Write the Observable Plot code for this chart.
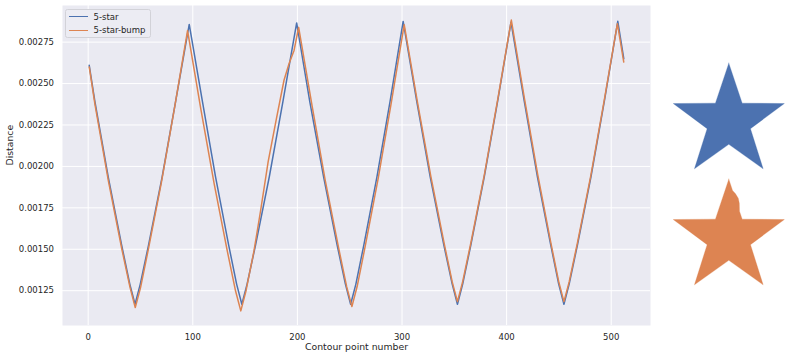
<!DOCTYPE html>
<html>
<head>
<meta charset="utf-8">
<script src="https://cdn.jsdelivr.net/npm/d3@7"></script>
<script src="https://cdn.jsdelivr.net/npm/@observablehq/plot@0.6"></script>
<style>
  html, body { margin: 0; padding: 0; background: #ffffff; }
  #wrap { position: relative; width: 789px; height: 356px; font-family: "DejaVu Sans", sans-serif; }
  #wrap svg { position: absolute; }
  #legend { position: absolute; left: 65px; top: 9px; width: 86px; height: 29px; box-sizing: border-box;
            border: 1px solid #d2d2d8; border-radius: 2.5px; background: #ececf3; color: #262626;
            font: 8.5px "DejaVu Sans", sans-serif; }
  .row { position: absolute; left: 0; height: 12px; }
  .sw { position: absolute; left: 3px; top: 5.5px; width: 19px; height: 0; border-top: 1.5px solid; }
  .lb { position: absolute; left: 27.5px; top: 0px; line-height: 12px; white-space: nowrap; }
</style>
</head>
<body>
<div id="wrap"></div>
<script>
// ---- data ----
const seriesNames = ["5-star", "5-star-bump"];
const seriesColors = ["#4C72B0", "#DD8452"];

const starIdx = [1, 6.4, 19.2, 32, 39.8, 44.8, 49.8, 57.7, 70.7, 83.6, 96.6, 109.2, 121.8, 134.3, 141.9, 146.9,
  151.9, 160, 173.1, 186.2, 199.3, 211.8, 225.1, 238, 245.9, 250.9, 255.9, 263.5, 276, 288.6, 301.1,
  314.1, 327, 340, 348, 353, 358, 365.8, 378.6, 391.4, 404.2, 416.9, 429.5, 442.2, 449.8, 454.8,
  459.8, 467.7, 480.6, 493.4, 506.3, 512];
const starDist = [0.00261, 0.002392, 0.001936, 0.001525, 0.00129, 0.001168, 0.00129, 0.001525, 0.001936, 0.002392, 0.002857,
  0.002392, 0.001936, 0.001525, 0.00129, 0.001168, 0.00129, 0.001525, 0.001936, 0.002392, 0.002866,
  0.002392, 0.001936, 0.001525, 0.00129, 0.001168, 0.00129, 0.001525, 0.001936, 0.002392, 0.002875,
  0.002392, 0.001936, 0.001525, 0.00129, 0.001168, 0.00129, 0.001525, 0.001936, 0.002392, 0.00287,
  0.002392, 0.001936, 0.001525, 0.00129, 0.001168, 0.00129, 0.001525, 0.001936, 0.002392, 0.002876, 0.00265];

const bumpIdx = [1, 6.6, 19.4, 32.2, 40, 45, 50, 57.5, 70, 82.5, 95, 107.7, 120.5, 133.2, 140.9, 145.9,
  150.9, 158.5, 165, 172.1, 180, 187.2, 192, 196.8, 201.2, 214, 226.6, 239.4, 247.1, 252.1,
  257.1, 264.6, 277.1, 289.6, 302.1, 314.8, 327.6, 340.3, 348, 353, 358, 365.9, 378.8, 391.6, 404.5,
  417.1, 429.7, 442.2, 449.8, 454.8, 459.8, 467.6, 480.4, 493.1, 505.9, 512];
const bumpDist = [0.0026, 0.00237, 0.00191, 0.0015, 0.00127, 0.001148, 0.001267, 0.001499, 0.001904, 0.002352, 0.00282,
  0.002346, 0.001893, 0.001483, 0.001248, 0.001128, 0.00125, 0.00149, 0.00174, 0.00203, 0.00229, 0.00252, 0.00262, 0.0027, 0.002839,
  0.002367, 0.001916, 0.001508, 0.001274, 0.001154, 0.001275, 0.001511, 0.001923, 0.002379, 0.002855,
  0.002387, 0.001939, 0.001535, 0.001303, 0.001184, 0.001305, 0.001541, 0.001952, 0.002407, 0.002883,
  0.002407, 0.001952, 0.001541, 0.001305, 0.001184, 0.001303, 0.001536, 0.001942, 0.002391, 0.002861, 0.00263];

const xTicks = [0, 100, 200, 300, 400, 500];
const yTicks = [0.00125, 0.0015, 0.00175, 0.002, 0.00225, 0.0025, 0.00275];
const xLabel = "Contour point number";
const yLabel = "Distance";

// star outlines (unit radius, y up)
const starShapeX = [0, 0.229, 0.951, 0.371, 0.588, 0, -0.588, -0.371, -0.951, -0.229, 0];
const starShapeY = [1, 0.316, 0.309, -0.121, -0.809, -0.39, -0.809, -0.121, 0.309, 0.316, 1];
const bumpShapeX = [0, 0.064, 0.115, 0.162, 0.180, 0.183, 0.229, 0.951, 0.371, 0.588, 0, -0.588, -0.371, -0.951, -0.229, 0];
const bumpShapeY = [1, 0.808, 0.750, 0.674, 0.589, 0.453, 0.316, 0.309, -0.121, -0.809, -0.39, -0.809, -0.121, 0.309, 0.316, 1];

// ---- build ----
const toRows = (xs, ys) => xs.map((x, i) => ({x, y: ys[i]}));
const blueRows = toRows(starIdx, starDist);
const orangeRows = toRows(bumpIdx, bumpDist);

const wrap = document.getElementById("wrap");

const main = Plot.plot({
  width: 660, height: 356,
  marginLeft: 62, marginRight: 10, marginTop: 5, marginBottom: 31,
  style: {fontFamily: "DejaVu Sans", fontSize: "8.5px", color: "#262626", background: "transparent", overflow: "visible"},
  x: {domain: [-24.55, 537.55]},
  y: {domain: [0.00104, 0.002971]},
  marks: [
    Plot.frame({fill: "#EAEAF2", stroke: "none"}),
    Plot.gridX(xTicks, {stroke: "#ffffff", strokeOpacity: 1, strokeWidth: 1}),
    Plot.gridY(yTicks, {stroke: "#ffffff", strokeOpacity: 1, strokeWidth: 1}),
    Plot.axisX(xTicks, {tickSize: 0, tickPadding: 8, label: null, fontSize: 8.5}),
    Plot.axisY(yTicks, {tickSize: 0, tickPadding: 8.5, label: null, tickFormat: d3.format(".5f"), fontSize: 8.5}),
    Plot.text([xLabel], {frameAnchor: "bottom", dy: 24, fontSize: 9.3, fill: "#262626"}),
    Plot.text([yLabel], {frameAnchor: "left", dx: -52, rotate: -90, fontSize: 9.3, fill: "#262626"}),
    Plot.line(blueRows, {x: "x", y: "y", stroke: seriesColors[0], strokeWidth: 1.5}),
    Plot.line(orangeRows, {x: "x", y: "y", stroke: seriesColors[1], strokeWidth: 1.5})
  ]
});
main.style.left = "0px"; main.style.top = "0px";
wrap.appendChild(main);

function starPlot(xs, ys, color, top) {
  const svg = Plot.plot({
    width: 129, height: 140, margin: 0,
    style: {background: "transparent"},
    x: {domain: [-1.169, 1.039], axis: null},
    y: {domain: [-1.197, 1.2], axis: null},
    marks: [
      Plot.line(toRows(xs, ys), {x: "x", y: "y", fill: color, stroke: color, strokeWidth: 0.3, curve: "linear-closed"})
    ]
  });
  svg.style.left = "660px"; svg.style.top = top + "px";
  wrap.appendChild(svg);
}
starPlot(starShapeX, starShapeY, seriesColors[0], 51.0);
starPlot(bumpShapeX, bumpShapeY, seriesColors[1], 166.6);

// legend
const legend = document.createElement("div");
legend.id = "legend";
seriesNames.forEach((name, i) => {
  const row = document.createElement("div");
  row.className = "row";
  row.style.top = (i === 0 ? 0.8 : 14.4) + "px";
  const sw = document.createElement("span");
  sw.className = "sw"; sw.style.borderTopColor = seriesColors[i];
  const lb = document.createElement("span");
  lb.className = "lb"; lb.textContent = name;
  row.appendChild(sw); row.appendChild(lb);
  legend.appendChild(row);
});
wrap.appendChild(legend);
</script>
</body>
</html>
